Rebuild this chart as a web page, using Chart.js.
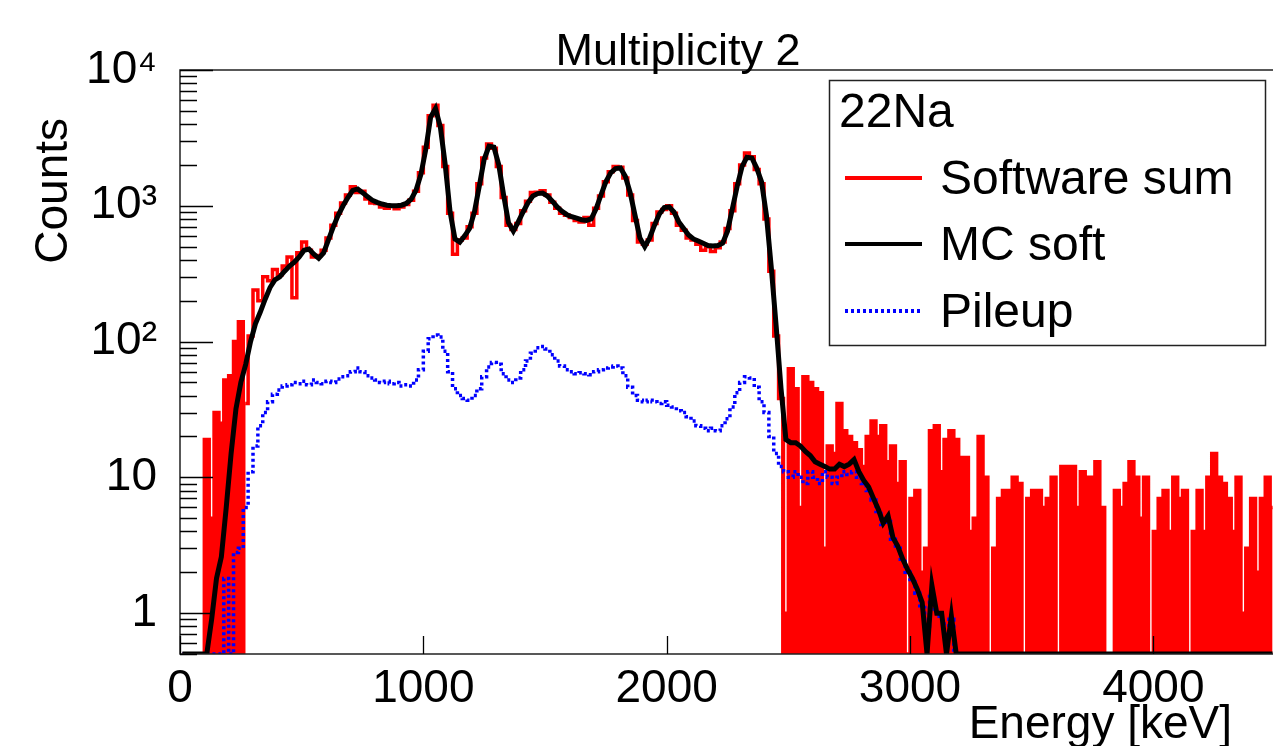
<!DOCTYPE html>
<html>
<head>
<meta charset="utf-8">
<script src="https://cdn.jsdelivr.net/npm/chart.js@4.4.1/dist/chart.umd.min.js"></script>
<style>
  html, body { margin: 0; padding: 0; background: #fff; overflow: hidden; }
  #wrap { width: 1282px; height: 746px; }
</style>
</head>
<body>
<div id="wrap"><canvas id="spectrum" width="1282" height="746"></canvas></div>
<script>
// 20 keV bins, 0 - 4500 keV
const binWidth = 20;

const softwareSum = [
  0, 0, 0, 0, 0, 19, 5, 30, 25, 52,
  56, 100, 140, 35, 110, 240, 200, 300, 280, 340,
  310, 360, 420, 210, 450, 540, 470, 420, 430, 470,
  580, 720, 880, 1050, 1200, 1380, 1250, 1280, 1120, 1050,
  1040, 980, 960, 1000, 950, 980, 1020, 1100, 1280, 1750,
  2700, 4600, 5500, 3900, 1950, 880, 440, 560, 580, 700,
  880, 1450, 2250, 2850, 2650, 1950, 1150, 720, 670, 740,
  920, 1080, 1250, 1260, 1290, 1200, 1060, 960, 880, 850,
  820, 780, 760, 820, 720, 960, 1180, 1500, 1780, 1950,
  1920, 1600, 1200, 780, 540, 520, 560, 740, 900, 940,
  1000, 880, 720, 660, 580, 560, 520, 470, 500, 460,
  490, 540, 680, 920, 1450, 2000, 2450, 2300, 1850, 1450,
  800, 330, 110, 38, 1, 63, 45, 6, 55, 50,
  45, 42, 3, 17, 15, 35, 22, 20, 18, 16,
  12, 20, 26, 20, 24, 13, 17, 9, 13, 0,
  7, 8, 2, 3, 22, 24, 11, 19, 22, 19,
  14, 14, 4, 5, 20, 10, 0, 3, 7, 8,
  8, 10, 9, 0, 7, 8, 8, 6, 7, 10,
  0, 12, 12, 12, 6, 11, 10, 10, 13, 6,
  0, 0, 8, 6, 9, 13, 10, 5, 10, 0,
  4, 7, 8, 4, 10, 7, 8, 0, 4, 8,
  4, 10, 15, 10, 9, 7, 4, 10, 1, 3,
  7, 2, 7, 10, 6
];

const mcSoft = [
  0, 0, 0, 0, 0, 0, 0.9, 1.8, 2.6, 6,
  15, 32, 50, 68, 100, 135, 165, 205, 250, 285,
  300, 330, 360, 385, 420, 470, 480, 440, 410, 450,
  560, 700, 850, 1000, 1150, 1300, 1330, 1250, 1170, 1100,
  1060, 1030, 1010, 1000, 1000, 1010, 1040, 1120, 1300, 1700,
  2600, 4500, 5200, 3800, 2000, 900, 570, 540, 600, 680,
  900, 1400, 2200, 2750, 2700, 2000, 1200, 750, 650, 760,
  900, 1050, 1180, 1230, 1240, 1180, 1080, 980, 910, 860,
  830, 810, 790, 780, 800, 950, 1200, 1500, 1750, 1880,
  1900, 1650, 1250, 850, 580, 500, 580, 720, 870, 970,
  980, 900, 760, 680, 610, 570, 550, 530, 510, 505,
  510, 530, 650, 950, 1400, 1950, 2280, 2250, 1900, 1500,
  850, 350, 130, 45, 19, 18, 18, 17, 15.5, 14.5,
  13, 12.5, 12, 11.5, 11.5, 12.5, 12, 12.5, 13.5, 11,
  9.5, 8.5, 7, 5.8, 4.6, 5.2, 3.6, 3.1, 2.5, 2.1,
  1.8, 1.5, 1.2, 0, 1.6, 1, 1, 0, 0.95, 0,
  0, 0, 0, 0, 0, 0, 0, 0, 0, 0,
  0, 0, 0, 0, 0, 0, 0, 0, 0, 0,
  0, 0, 0, 0, 0, 0, 0, 0, 0, 0,
  0, 0, 0, 0, 0, 0, 0, 0, 0, 0,
  0, 0, 0, 0, 0, 0, 0, 0, 0, 0,
  0, 0, 0, 0, 0, 0, 0, 0, 0, 0,
  0, 0, 0, 0, 0
];

const pileup = [
  0, 0, 0, 0, 0, 0, 0, 0, 0, 1.8,
  0, 2.8, 3, 6, 11, 17, 24, 30, 36, 41,
  44, 47, 48, 50, 49, 51, 48, 52, 50, 49,
  51, 50, 53, 55, 56, 60, 64, 60, 56, 54,
  52, 50, 51, 49, 50, 47, 48, 47, 52, 62,
  85, 105, 112, 108, 85, 60, 45, 40, 38, 37,
  40, 45, 55, 65, 70, 68, 58, 52, 50, 54,
  62, 72, 82, 90, 92, 88, 80, 72, 66, 62,
  60, 58, 59, 58, 57, 60, 62, 64, 65, 66,
  64, 56, 46, 40, 37, 36, 37, 36, 35, 36,
  34, 33, 31, 30, 28, 26, 24, 23, 22, 23,
  22, 24, 27, 33, 42, 50, 55, 54, 46, 36,
  30, 20, 15, 12, 11, 10, 11, 10, 9, 11,
  10, 9, 11, 10, 9, 10, 11, 10.5, 11, 10,
  9, 8, 6.8, 5.6, 4.5, 5, 3.5, 3, 2.4, 2,
  1.7, 1.4, 1.1, 0.8, 1.4, 1, 0.9, 0.7, 0.9, 0,
  0, 0, 0, 0, 0, 0, 0, 0, 0, 0,
  0, 0, 0, 0, 0, 0, 0, 0, 0, 0,
  0, 0, 0, 0, 0, 0, 0, 0, 0, 0,
  0, 0, 0, 0, 0, 0, 0, 0, 0, 0,
  0, 0, 0, 0, 0, 0, 0, 0, 0, 0,
  0, 0, 0, 0, 0, 0, 0, 0, 0, 0,
  0, 0, 0, 0, 0
];

const xTicks = [0, 1000, 2000, 3000, 4000];
const yTicks = [1, 10, 100, 1000, 10000];
const yTickLabels = ['1', '10', '10²', '10³', '10⁴'];

const yMin = 0.5;
const yMax = 10000;

// sparse red bins read as solid columns below this / above that energy
const headEnd = 260;
const tailStart = 2470;

const FONT = "'Liberation Sans', Arial, Helvetica, sans-serif";

// empty bins sit on the lower frame edge, like a ROOT log plot
const toPoints = vals => vals.map((v, i) => ({
  x: i * binWidth + binWidth / 2,
  y: v > 0 ? v : yMin
}));

const rootDecor = {
  id: 'rootDecor',
  afterDraw(chart) {
    const { ctx, chartArea: a, scales: { x, y } } = chart;
    ctx.save();

    // frame
    ctx.strokeStyle = '#222';
    ctx.lineWidth = 1.5;
    ctx.beginPath();
    ctx.moveTo(a.right, a.top);
    ctx.lineTo(a.left, a.top);
    ctx.lineTo(a.left, a.bottom);
    ctx.lineTo(a.right, a.bottom);
    ctx.stroke();

    // ticks inside the frame
    ctx.strokeStyle = '#000';
    ctx.lineWidth = 1.3;
    ctx.beginPath();
    for (let d = -1; d <= 4; d++) {
      for (let m = 1; m <= 9; m++) {
        const v = m * Math.pow(10, d);
        if (v < y.min || v > y.max) continue;
        const py = Math.round(y.getPixelForValue(v)) + 0.5;
        ctx.moveTo(a.left, py);
        ctx.lineTo(a.left + (m === 1 ? 33 : 17), py);
      }
    }
    xTicks.forEach(v => {
      const px = Math.round(x.getPixelForValue(v)) + 0.5;
      ctx.moveTo(px, a.bottom);
      ctx.lineTo(px, a.bottom - 18);
    });
    ctx.stroke();

    // title
    ctx.fillStyle = '#000';
    ctx.font = `45px ${FONT}`;
    ctx.textAlign = 'center';
    ctx.textBaseline = 'alphabetic';
    ctx.fillText('Multiplicity 2', 678, 65);

    // axis titles
    ctx.font = `46px ${FONT}`;
    ctx.textAlign = 'right';
    ctx.fillText('Energy [keV]', 1232, 738);
    ctx.save();
    ctx.translate(67, 118);
    ctx.rotate(-Math.PI / 2);
    ctx.textAlign = 'right';
    ctx.fillText('Counts', 0, 0);
    ctx.restore();

    // legend
    const bx = 829.5, by = 80.5, bw = 436, bh = 265;
    ctx.fillStyle = '#fff';
    ctx.fillRect(bx, by, bw, bh);
    ctx.strokeStyle = '#222';
    ctx.lineWidth = 1.5;
    ctx.strokeRect(bx, by, bw, bh);
    ctx.fillStyle = '#000';
    ctx.font = `48px ${FONT}`;
    ctx.textAlign = 'left';
    ctx.fillText('22Na', 839, 127);
    const rows = [178, 244, 311];
    chart.data.datasets.forEach((ds, i) => {
      const ly = rows[i];
      ctx.save();
      ctx.strokeStyle = ds.borderColor;
      ctx.lineWidth = 4;
      ctx.setLineDash(ds.borderDash || []);
      ctx.beginPath();
      ctx.moveTo(845, ly);
      ctx.lineTo(922, ly);
      ctx.stroke();
      ctx.restore();
      ctx.fillStyle = '#000';
      ctx.fillText(ds.label, 940, ly + 16);
    });

    ctx.restore();
  }
};

new Chart(document.getElementById('spectrum'), {
  type: 'line',
  data: {
    datasets: [
      {
        label: 'Software sum',
        data: toPoints(softwareSum),
        borderColor: '#ff0000',
        backgroundColor: 'rgba(0,0,0,0)',
        borderWidth: 3.5,
        stepped: 'middle',
        pointRadius: 0,
        fill: 'start',
        order: 3,
        segment: {
          backgroundColor: c => {
            const e = c.p0.parsed.x;
            return (e < headEnd || e >= tailStart) ? '#ff0000' : 'rgba(0,0,0,0)';
          }
        }
      },
      {
        label: 'MC soft',
        data: toPoints(mcSoft),
        borderColor: '#000000',
        borderWidth: 5,
        pointRadius: 0,
        fill: false,
        order: 1
      },
      {
        label: 'Pileup',
        data: toPoints(pileup),
        borderColor: '#0000ff',
        borderWidth: 3.5,
        borderDash: [3, 3],
        borderCapStyle: 'butt',
        stepped: 'middle',
        pointRadius: 0,
        fill: false,
        order: 2
      }
    ]
  },
  options: {
    responsive: false,
    animation: false,
    devicePixelRatio: 1,
    layout: { padding: { left: 0, right: 7, top: 70, bottom: 0 } },
    plugins: {
      legend: { display: false },
      title: { display: false },
      tooltip: { enabled: false }
    },
    scales: {
      x: {
        type: 'linear',
        min: 0,
        max: 4500,
        afterBuildTicks: s => { s.ticks = xTicks.map(v => ({ value: v })); },
        afterFit: s => { s.height = 92; },
        grid: { display: false, drawTicks: false },
        border: { display: false },
        ticks: {
          font: { family: FONT, size: 46 },
          color: '#000',
          padding: 8,
          maxRotation: 0,
          autoSkip: false,
          callback: v => String(v)
        }
      },
      y: {
        type: 'logarithmic',
        min: yMin,
        max: yMax,
        afterBuildTicks: s => { s.ticks = yTicks.map(v => ({ value: v })); },
        afterFit: s => { s.width = 180; },
        grid: { display: false, drawTicks: false },
        border: { display: false },
        ticks: {
          font: { family: FONT, size: 46 },
          color: '#000',
          padding: 23,
          autoSkip: false,
          callback: (v, i) => yTickLabels[i]
        }
      }
    }
  },
  plugins: [rootDecor]
});
</script>
</body>
</html>
